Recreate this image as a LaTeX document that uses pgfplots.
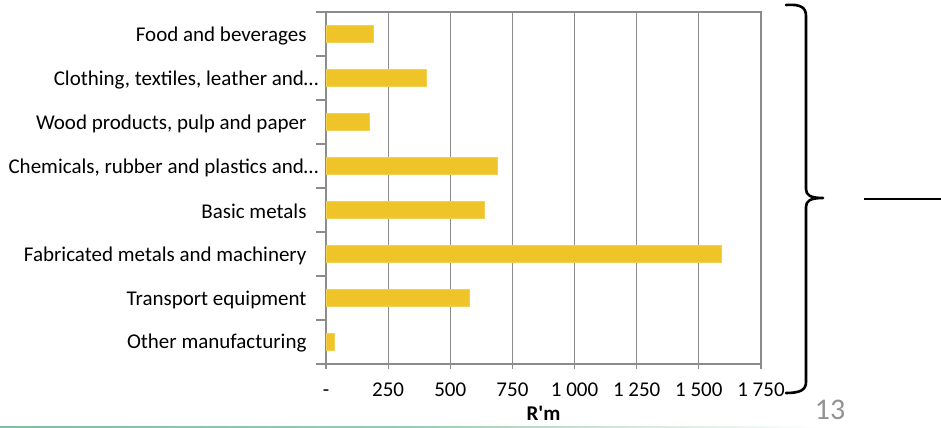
\documentclass[border=0pt]{standalone}
\usepackage{pgfplots}
\pgfplotsset{compat=1.18}
\usepackage{fontspec}
\setmainfont{Carlito}
\newfontfamily\plainfont{Carlito}
\definecolor{barfill}{RGB}{238,196,41}
\definecolor{gridgray}{RGB}{140,140,140}
\definecolor{slidegreen}{RGB}{128,190,160}

% Output value by manufacturing sector, R million
\pgfplotstableread[col sep=comma]{
idx,value
0,190
1,405
2,174
3,691
4,638
5,1590
6,575
7,35
}\sectordata

\begin{document}
\begin{tikzpicture}
\useasboundingbox (0,0) rectangle (941bp,-428bp);
\begin{axis}[
  at={(326bp,-364bp)}, anchor=south west,
  width=435bp, height=352bp, scale only axis,
  xbar, bar width=17bp,
  xmin=0, xmax=1750,
  ymin=-0.5, ymax=7.5, y dir=reverse,
  font=\fontsize{21bp}{25bp}\selectfont,
  xtick={0,250,...,1750},
  xticklabels={-,250,500,750,{1 000},{1 250},{1 500},{1 750}},
  xticklabel style={yshift=-10bp, text height=14bp, text depth=2bp},
  xmajorgrids,
  grid style={gridgray, line width=1.2bp},
  axis line style={gridgray, line width=1.2bp},
  tick style={gridgray, line width=1.2bp},
  tick align=outside, xtick pos=bottom, ytick pos=left,
  major tick length=5bp,
  ytick={0,...,7},
  ytick style={draw=none},
  yticklabels={
    {Food and beverages\kern12bp},
    {Clothing, textiles, leather and…},
    {Wood products, pulp and paper\kern12bp},
    {Chemicals, rubber and plastics and…},
    {Basic metals\kern12bp},
    {Fabricated metals and machinery\kern12bp},
    {Transport equipment\kern12bp},
    {Other manufacturing\kern12bp}
  },
  yticklabel style={anchor=east, xshift=1bp, yshift=-1.5bp},
  extra y ticks={-0.5,0.5,...,7.5},
  extra y tick labels={},
  extra y tick style={grid=none, major tick length=10bp,
    ytick style={draw=gridgray, line width=1.2bp}},
  xlabel={\plainfont\bfseries R'm},
  every axis x label/.style={at={(axis description cs:0.5,0)},
    anchor=center, yshift=-49bp},
]
\addplot[fill=barfill, draw=barfill!80!white, line width=0.6bp]
  table[x=value, y=idx] {\sectordata};
\end{axis}

% bracket grouping the sectors
\draw[line width=2.6bp, line cap=round, line join=round]
  (786bp,-5bp) .. controls (800bp,-4bp) and (806bp,-7bp) .. (806bp,-16bp)
  -- (806bp,-189bp) .. controls (806bp,-195bp) and (810bp,-198bp) .. (823bp,-198bp)
  .. controls (810bp,-198bp) and (806bp,-201bp) .. (806bp,-207bp)
  -- (806bp,-382bp) .. controls (806bp,-390bp) and (800bp,-393bp) .. (786bp,-393bp);
\draw[line width=2bp] (864bp,-199bp) -- (941bp,-199bp);

% slide number and footer rule
\node[text=gray!85] at (830bp,-410bp) {\fontsize{30bp}{30bp}\selectfont 13};
\shade[left color=slidegreen, right color=white, middle color=slidegreen!80!white]
  (0bp,-426bp) rectangle (820bp,-428bp);
\end{tikzpicture}
\end{document}
